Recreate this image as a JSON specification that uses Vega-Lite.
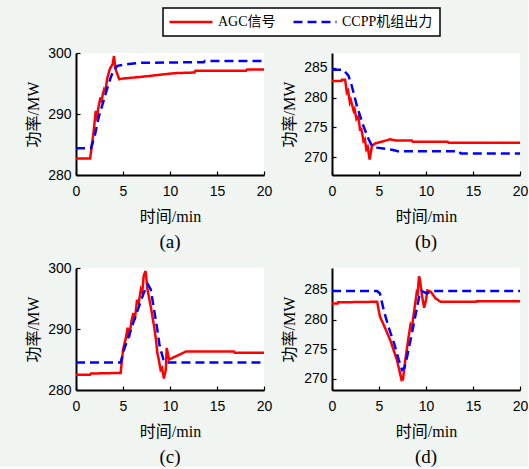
{
  "$schema": "https://vega.github.io/schema/vega-lite/v6.json",
  "background": "#f1f5f2",
  "padding": {"left": 25, "top": 7, "right": 0, "bottom": 0},
  "datasets": {
    "d": [
      {"g":"a","s":"AGC信号","t":0,"p":282.7},{"g":"a","s":"AGC信号","t":1.5,"p":282.7},{"g":"a","s":"AGC信号","t":1.7,"p":285},{"g":"a","s":"AGC信号","t":1.9,"p":287.5},{"g":"a","s":"AGC信号","t":2.1,"p":290.5},{"g":"a","s":"AGC信号","t":2.2,"p":288.9},{"g":"a","s":"AGC信号","t":2.35,"p":290.8},{"g":"a","s":"AGC信号","t":2.6,"p":292.7},{"g":"a","s":"AGC信号","t":2.7,"p":291.9},{"g":"a","s":"AGC信号","t":2.85,"p":293.2},{"g":"a","s":"AGC信号","t":3.0,"p":294.1},{"g":"a","s":"AGC信号","t":3.15,"p":293.8},{"g":"a","s":"AGC信号","t":3.3,"p":295.7},{"g":"a","s":"AGC信号","t":3.6,"p":297.4},{"g":"a","s":"AGC信号","t":3.9,"p":298.2},{"g":"a","s":"AGC信号","t":4.04,"p":299.5},{"g":"a","s":"AGC信号","t":4.2,"p":297.4},{"g":"a","s":"AGC信号","t":4.6,"p":295.7},{"g":"a","s":"AGC信号","t":4.9,"p":295.8},{"g":"a","s":"AGC信号","t":7,"p":296.1},{"g":"a","s":"AGC信号","t":9.9,"p":296.6},{"g":"a","s":"AGC信号","t":10.6,"p":296.7},{"g":"a","s":"AGC信号","t":12.6,"p":296.8},{"g":"a","s":"AGC信号","t":12.7,"p":297.1},{"g":"a","s":"AGC信号","t":18.1,"p":297.1},{"g":"a","s":"AGC信号","t":18.2,"p":297.3},{"g":"a","s":"AGC信号","t":20,"p":297.3},
      {"g":"a","s":"CCPP机组出力","t":0,"p":284.4},{"g":"a","s":"CCPP机组出力","t":1.6,"p":284.4},{"g":"a","s":"CCPP机组出力","t":2.0,"p":286.5},{"g":"a","s":"CCPP机组出力","t":2.45,"p":289.7},{"g":"a","s":"CCPP机组出力","t":2.9,"p":292},{"g":"a","s":"CCPP机组出力","t":3.3,"p":294.1},{"g":"a","s":"CCPP机组出力","t":3.7,"p":296},{"g":"a","s":"CCPP机组出力","t":4.0,"p":297.2},{"g":"a","s":"CCPP机组出力","t":4.4,"p":297.9},{"g":"a","s":"CCPP机组出力","t":5.6,"p":298.2},{"g":"a","s":"CCPP机组出力","t":7,"p":298.4},{"g":"a","s":"CCPP机组出力","t":13.6,"p":298.5},{"g":"a","s":"CCPP机组出力","t":13.7,"p":298.7},{"g":"a","s":"CCPP机组出力","t":20,"p":298.7},
      {"g":"b","s":"AGC信号","t":0,"p":282.8},{"g":"b","s":"AGC信号","t":1.0,"p":282.8},{"g":"b","s":"AGC信号","t":1.05,"p":283.0},{"g":"b","s":"AGC信号","t":1.4,"p":283.0},{"g":"b","s":"AGC信号","t":1.57,"p":280.9},{"g":"b","s":"AGC信号","t":1.7,"p":281.2},{"g":"b","s":"AGC信号","t":1.9,"p":279.2},{"g":"b","s":"AGC信号","t":2.0,"p":279.6},{"g":"b","s":"AGC信号","t":2.3,"p":277.8},{"g":"b","s":"AGC信号","t":2.4,"p":278.1},{"g":"b","s":"AGC信号","t":2.6,"p":276.4},{"g":"b","s":"AGC信号","t":2.8,"p":276.8},{"g":"b","s":"AGC信号","t":3.0,"p":274.4},{"g":"b","s":"AGC信号","t":3.1,"p":274.9},{"g":"b","s":"AGC信号","t":3.35,"p":272.7},{"g":"b","s":"AGC信号","t":3.5,"p":273.0},{"g":"b","s":"AGC信号","t":3.65,"p":271.3},{"g":"b","s":"AGC信号","t":3.8,"p":271.7},{"g":"b","s":"AGC信号","t":4.0,"p":269.6},{"g":"b","s":"AGC信号","t":4.25,"p":271.9},{"g":"b","s":"AGC信号","t":4.6,"p":272.3},{"g":"b","s":"AGC信号","t":6.2,"p":273.0},{"g":"b","s":"AGC信号","t":6.8,"p":272.8},{"g":"b","s":"AGC信号","t":8.5,"p":272.8},{"g":"b","s":"AGC信号","t":8.6,"p":272.6},{"g":"b","s":"AGC信号","t":12.3,"p":272.6},{"g":"b","s":"AGC信号","t":12.4,"p":272.4},{"g":"b","s":"AGC信号","t":20,"p":272.4},
      {"g":"b","s":"CCPP机组出力","t":0,"p":284.7},{"g":"b","s":"CCPP机组出力","t":1.2,"p":284.7},{"g":"b","s":"CCPP机组出力","t":1.75,"p":283.7},{"g":"b","s":"CCPP机组出力","t":2.1,"p":282},{"g":"b","s":"CCPP机组出力","t":2.65,"p":278.6},{"g":"b","s":"CCPP机组出力","t":3.35,"p":275.2},{"g":"b","s":"CCPP机组出力","t":3.9,"p":273},{"g":"b","s":"CCPP机组出力","t":4.25,"p":271.9},{"g":"b","s":"CCPP机组出力","t":4.8,"p":271.6},{"g":"b","s":"CCPP机组出力","t":6.5,"p":271.2},{"g":"b","s":"CCPP机组出力","t":7,"p":271.0},{"g":"b","s":"CCPP机组出力","t":13.5,"p":271.0},{"g":"b","s":"CCPP机组出力","t":13.7,"p":270.6},{"g":"b","s":"CCPP机组出力","t":20,"p":270.6},
      {"g":"c","s":"AGC信号","t":0,"p":282.5},{"g":"c","s":"AGC信号","t":1.5,"p":282.5},{"g":"c","s":"AGC信号","t":1.6,"p":282.7},{"g":"c","s":"AGC信号","t":4.75,"p":282.8},{"g":"c","s":"AGC信号","t":5.0,"p":286.6},{"g":"c","s":"AGC信号","t":5.3,"p":288.5},{"g":"c","s":"AGC信号","t":5.5,"p":290.2},{"g":"c","s":"AGC信号","t":5.65,"p":288.6},{"g":"c","s":"AGC信号","t":5.9,"p":291.3},{"g":"c","s":"AGC信号","t":6.1,"p":292.6},{"g":"c","s":"AGC信号","t":6.25,"p":291.5},{"g":"c","s":"AGC信号","t":6.5,"p":294.8},{"g":"c","s":"AGC信号","t":6.65,"p":294.1},{"g":"c","s":"AGC信号","t":6.9,"p":296.5},{"g":"c","s":"AGC信号","t":7.05,"p":296.0},{"g":"c","s":"AGC信号","t":7.2,"p":298.7},{"g":"c","s":"AGC信号","t":7.4,"p":299.5},{"g":"c","s":"AGC信号","t":7.6,"p":296.5},{"g":"c","s":"AGC信号","t":7.95,"p":293.7},{"g":"c","s":"AGC信号","t":8.3,"p":290.5},{"g":"c","s":"AGC信号","t":8.5,"p":288.3},{"g":"c","s":"AGC信号","t":8.65,"p":286.1},{"g":"c","s":"AGC信号","t":8.8,"p":285.0},{"g":"c","s":"AGC信号","t":9.0,"p":283.3},{"g":"c","s":"AGC信号","t":9.15,"p":283.6},{"g":"c","s":"AGC信号","t":9.35,"p":281.9},{"g":"c","s":"AGC信号","t":9.55,"p":283.3},{"g":"c","s":"AGC信号","t":9.65,"p":286.9},{"g":"c","s":"AGC信号","t":9.9,"p":285.0},{"g":"c","s":"AGC信号","t":11.7,"p":286.3},{"g":"c","s":"AGC信号","t":16.8,"p":286.3},{"g":"c","s":"AGC信号","t":16.9,"p":286.1},{"g":"c","s":"AGC信号","t":20,"p":286.1},
      {"g":"c","s":"CCPP机组出力","t":0,"p":284.5},{"g":"c","s":"CCPP机组出力","t":4.75,"p":284.5},{"g":"c","s":"CCPP机组出力","t":5.1,"p":286.6},{"g":"c","s":"CCPP机组出力","t":5.6,"p":288.8},{"g":"c","s":"CCPP机组出力","t":6.2,"p":291.5},{"g":"c","s":"CCPP机组出力","t":6.7,"p":293.7},{"g":"c","s":"CCPP机组出力","t":7.2,"p":295.9},{"g":"c","s":"CCPP机组出力","t":7.65,"p":297.3},{"g":"c","s":"CCPP机组出力","t":7.95,"p":296.5},{"g":"c","s":"CCPP机组出力","t":8.3,"p":293.2},{"g":"c","s":"CCPP机组出力","t":8.65,"p":289.9},{"g":"c","s":"CCPP机组出力","t":8.9,"p":287.2},{"g":"c","s":"CCPP机组出力","t":9.3,"p":285},{"g":"c","s":"CCPP机组出力","t":9.55,"p":284.5},{"g":"c","s":"CCPP机组出力","t":20,"p":284.5},
      {"g":"d","s":"AGC信号","t":0,"p":282.7},{"g":"d","s":"AGC信号","t":0.6,"p":282.7},{"g":"d","s":"AGC信号","t":0.65,"p":282.9},{"g":"d","s":"AGC信号","t":4.8,"p":283},{"g":"d","s":"AGC信号","t":5.1,"p":280.5},{"g":"d","s":"AGC信号","t":5.5,"p":279.1},{"g":"d","s":"AGC信号","t":6.2,"p":276.5},{"g":"d","s":"AGC信号","t":6.9,"p":273.2},{"g":"d","s":"AGC信号","t":7.4,"p":269.8},{"g":"d","s":"AGC信号","t":7.55,"p":269.9},{"g":"d","s":"AGC信号","t":7.8,"p":273.2},{"g":"d","s":"AGC信号","t":8.15,"p":277.1},{"g":"d","s":"AGC信号","t":8.35,"p":279.1},{"g":"d","s":"AGC信号","t":8.5,"p":278.6},{"g":"d","s":"AGC信号","t":8.7,"p":281.0},{"g":"d","s":"AGC信号","t":9.0,"p":284.4},{"g":"d","s":"AGC信号","t":9.1,"p":284.0},{"g":"d","s":"AGC信号","t":9.25,"p":287.3},{"g":"d","s":"AGC信号","t":9.35,"p":286.8},{"g":"d","s":"AGC信号","t":9.6,"p":283.8},{"g":"d","s":"AGC信号","t":9.8,"p":282.0},{"g":"d","s":"AGC信号","t":10.0,"p":283.3},{"g":"d","s":"AGC信号","t":10.15,"p":284.9},{"g":"d","s":"AGC信号","t":10.5,"p":284.7},{"g":"d","s":"AGC信号","t":11.0,"p":283.6},{"g":"d","s":"AGC信号","t":11.55,"p":283.0},{"g":"d","s":"AGC信号","t":15.3,"p":283.0},{"g":"d","s":"AGC信号","t":15.4,"p":283.1},{"g":"d","s":"AGC信号","t":20,"p":283.1},
      {"g":"d","s":"CCPP机组出力","t":0,"p":284.8},{"g":"d","s":"CCPP机组出力","t":4.8,"p":284.8},{"g":"d","s":"CCPP机组出力","t":5.1,"p":284.4},{"g":"d","s":"CCPP机组出力","t":5.5,"p":281.6},{"g":"d","s":"CCPP机组出力","t":6.0,"p":278.8},{"g":"d","s":"CCPP机组出力","t":6.6,"p":276},{"g":"d","s":"CCPP机组出力","t":7.1,"p":273.2},{"g":"d","s":"CCPP机组出力","t":7.45,"p":271.5},{"g":"d","s":"CCPP机组出力","t":7.7,"p":271.8},{"g":"d","s":"CCPP机组出力","t":8.0,"p":273.8},{"g":"d","s":"CCPP机组出力","t":8.35,"p":276.5},{"g":"d","s":"CCPP机组出力","t":8.7,"p":279.3},{"g":"d","s":"CCPP机组出力","t":9.05,"p":282.1},{"g":"d","s":"CCPP机组出力","t":9.3,"p":284.1},{"g":"d","s":"CCPP机组出力","t":9.55,"p":284.8},{"g":"d","s":"CCPP机组出力","t":10.1,"p":284.4},{"g":"d","s":"CCPP机组出力","t":10.6,"p":284.8},{"g":"d","s":"CCPP机组出力","t":20,"p":284.8}
    ]
  },
  "data": {"name": "d"},
  "columns": 2,
  "spacing": {"column": 9, "row": 9},
  "resolve": {"scale": {"y": "independent"}},
  "concat": [
    {
      "width": 188, "height": 122,
      "title": {"text": "(a)"},
      "transform": [{"filter": "datum.g == 'a'"}],
      "mark": {"type": "line", "strokeWidth": 2.5},
      "encoding": {
        "x": {"field": "t", "type": "quantitative", "title": "时间/min", "scale": {"domain": [0, 20]}, "axis": {"values": [0, 5, 10, 15, 20]}},
        "y": {"field": "p", "type": "quantitative", "title": "功率/MW", "scale": {"domain": [280, 300], "zero": false}, "axis": {"values": [280, 290, 300]}},
        "color": {"field": "s", "type": "nominal", "scale": {"domain": ["AGC信号", "CCPP机组出力"], "range": ["#ff0000", "#0000ff"]}, "legend": {"title": null, "orient": "none", "legendX": 87, "legendY": -45, "direction": "horizontal"}},
        "strokeDash": {"field": "s", "type": "nominal", "scale": {"domain": ["AGC信号", "CCPP机组出力"], "range": [[1, 0], [9, 5]]}, "legend": {"title": null, "orient": "none", "legendX": 87, "legendY": -45, "direction": "horizontal"}}
      }
    },
    {
      "width": 188, "height": 122,
      "title": {"text": "(b)"},
      "transform": [{"filter": "datum.g == 'b'"}],
      "mark": {"type": "line", "strokeWidth": 2.5},
      "encoding": {
        "x": {"field": "t", "type": "quantitative", "title": "时间/min", "scale": {"domain": [0, 20]}, "axis": {"values": [0, 5, 10, 15, 20]}},
        "y": {"field": "p", "type": "quantitative", "title": "功率/MW", "scale": {"domain": [267, 287.5], "zero": false}, "axis": {"values": [270, 275, 280, 285]}},
        "color": {"field": "s", "type": "nominal"},
        "strokeDash": {"field": "s", "type": "nominal"}
      }
    },
    {
      "width": 188, "height": 122,
      "title": {"text": "(c)"},
      "transform": [{"filter": "datum.g == 'c'"}],
      "mark": {"type": "line", "strokeWidth": 2.5},
      "encoding": {
        "x": {"field": "t", "type": "quantitative", "title": "时间/min", "scale": {"domain": [0, 20]}, "axis": {"values": [0, 5, 10, 15, 20]}},
        "y": {"field": "p", "type": "quantitative", "title": "功率/MW", "scale": {"domain": [280, 300], "zero": false}, "axis": {"values": [280, 290, 300]}},
        "color": {"field": "s", "type": "nominal"},
        "strokeDash": {"field": "s", "type": "nominal"}
      }
    },
    {
      "width": 188, "height": 122,
      "title": {"text": "(d)"},
      "transform": [{"filter": "datum.g == 'd'"}],
      "mark": {"type": "line", "strokeWidth": 2.5},
      "encoding": {
        "x": {"field": "t", "type": "quantitative", "title": "时间/min", "scale": {"domain": [0, 20]}, "axis": {"values": [0, 5, 10, 15, 20]}},
        "y": {"field": "p", "type": "quantitative", "title": "功率/MW", "scale": {"domain": [268.1, 288.7], "zero": false}, "axis": {"values": [270, 275, 280, 285]}},
        "color": {"field": "s", "type": "nominal"},
        "strokeDash": {"field": "s", "type": "nominal"}
      }
    }
  ],
  "config": {
    "view": {"stroke": null, "fill": "white"},
    "axis": {
      "grid": false,
      "domainColor": "black", "domainWidth": 2,
      "tickColor": "black", "tickWidth": 1.2, "tickSize": -4,
      "labelPadding": 9,
      "labelFont": "Liberation Sans", "labelFontSize": 14, "labelColor": "black",
      "titleFont": "Liberation Serif, Noto Sans CJK SC", "titleFontSize": 16, "titleFontWeight": "normal", "titleColor": "black"
    },
    "axisX": {"titlePadding": 10, "labelPadding": 13, "labelFlush": false},
    "axisY": {"titlePadding": 6},
    "title": {"orient": "bottom", "anchor": "middle", "font": "Liberation Serif", "fontSize": 19, "fontWeight": "normal", "color": "black", "offset": 9},
    "legend": {
      "strokeColor": "black", "strokeWidth": 1.5, "fillColor": "white", "padding": 7,
      "labelFont": "Liberation Serif, Noto Sans CJK SC", "labelFontSize": 14, "labelColor": "black",
      "symbolType": "M-7.5,0H35.5", "symbolSize": 4,
      "symbolStrokeWidth": 2.5, "labelOffset": 34, "columnPadding": 12
    }
  }
}
